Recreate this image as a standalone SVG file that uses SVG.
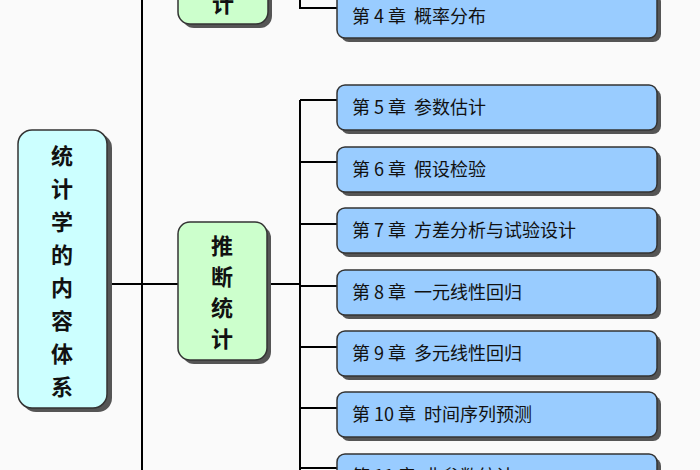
<svg xmlns="http://www.w3.org/2000/svg" width="700" height="470" viewBox="0 0 700 470">
<style>
.ln{stroke:#000;stroke-width:2;fill:none}
.sh{fill:#555}
.ch{fill:#99ccff;stroke:#333;stroke-width:1.5}
.g{fill:#ccffcc;stroke:#333;stroke-width:1.5}
.c{fill:#ccffff;stroke:#333;stroke-width:1.5}
.t{font-family:"Noto Sans CJK SC",sans-serif;font-size:18px;fill:#111;white-space:pre}
.b{font-family:"Noto Sans CJK SC",sans-serif;font-size:22px;font-weight:bold;fill:#111;text-anchor:middle}
</style>
<rect width="700" height="470" fill="#fafafa"/>
<g id="connectors">
<path class="ln" d="M142 0V470M107 284H180M268 284H300M300 100V470M300 0V8H337M300 100H337M300 162H337M300 224H337M300 286H337M300 347H337M300 408H337M300 468H337"/>
</g>
<g id="root"><rect class="sh" x="22" y="134" width="90" height="278" rx="14"/><rect class="c" x="18" y="130" width="89" height="278" rx="14"/>
<text class="b" x="62" y="164">统</text><text class="b" x="62" y="197">计</text><text class="b" x="62" y="230">学</text><text class="b" x="62" y="263">的</text><text class="b" x="62" y="296">内</text><text class="b" x="62" y="329">容</text><text class="b" x="62" y="362">体</text><text class="b" x="62" y="395">系</text></g>
<g id="desc"><rect class="sh" x="182" y="-20" width="90" height="48" rx="12"/><rect class="g" x="178" y="-24" width="90" height="48" rx="12"/><text class="b" x="223" y="12">计</text></g>
<g id="infer"><rect class="sh" x="182" y="226" width="89" height="138" rx="12"/><rect class="g" x="178" y="222" width="89" height="138" rx="12"/>
<text class="b" x="222" y="254">推</text><text class="b" x="222" y="285">断</text><text class="b" x="222" y="316">统</text><text class="b" x="222" y="347">计</text></g>
<g id="c4"><rect class="sh" x="341" y="-6" width="320" height="48" rx="8"/><rect class="ch" x="337" y="-10" width="320" height="48" rx="8"/><text class="t" x="352" y="23" xml:space="preserve">第 4 章  概率分布</text></g>
<g id="c5"><rect class="sh" x="341" y="89" width="320" height="45" rx="8"/><rect class="ch" x="337" y="85" width="320" height="45" rx="8"/><text class="t" x="352" y="114" xml:space="preserve">第 5 章  参数估计</text></g>
<g id="c6"><rect class="sh" x="341" y="151" width="320" height="45" rx="8"/><rect class="ch" x="337" y="147" width="320" height="45" rx="8"/><text class="t" x="352" y="176" xml:space="preserve">第 6 章  假设检验</text></g>
<g id="c7"><rect class="sh" x="341" y="212" width="320" height="45" rx="8"/><rect class="ch" x="337" y="208" width="320" height="45" rx="8"/><text class="t" x="352" y="237" xml:space="preserve">第 7 章  方差分析与试验设计</text></g>
<g id="c8"><rect class="sh" x="341" y="274" width="320" height="45" rx="8"/><rect class="ch" x="337" y="270" width="320" height="45" rx="8"/><text class="t" x="352" y="299" xml:space="preserve">第 8 章  一元线性回归</text></g>
<g id="c9"><rect class="sh" x="341" y="335" width="320" height="45" rx="8"/><rect class="ch" x="337" y="331" width="320" height="45" rx="8"/><text class="t" x="352" y="360" xml:space="preserve">第 9 章  多元线性回归</text></g>
<g id="c10"><rect class="sh" x="341" y="396" width="320" height="45" rx="8"/><rect class="ch" x="337" y="392" width="320" height="45" rx="8"/><text class="t" x="352" y="421" xml:space="preserve">第 10 章  时间序列预测</text></g>
<g id="c11"><rect class="sh" x="341" y="458" width="320" height="45" rx="8"/><rect class="ch" x="337" y="454" width="320" height="45" rx="8"/><text class="t" x="352" y="483" xml:space="preserve">第 11 章  非参数统计</text></g>
</svg>
